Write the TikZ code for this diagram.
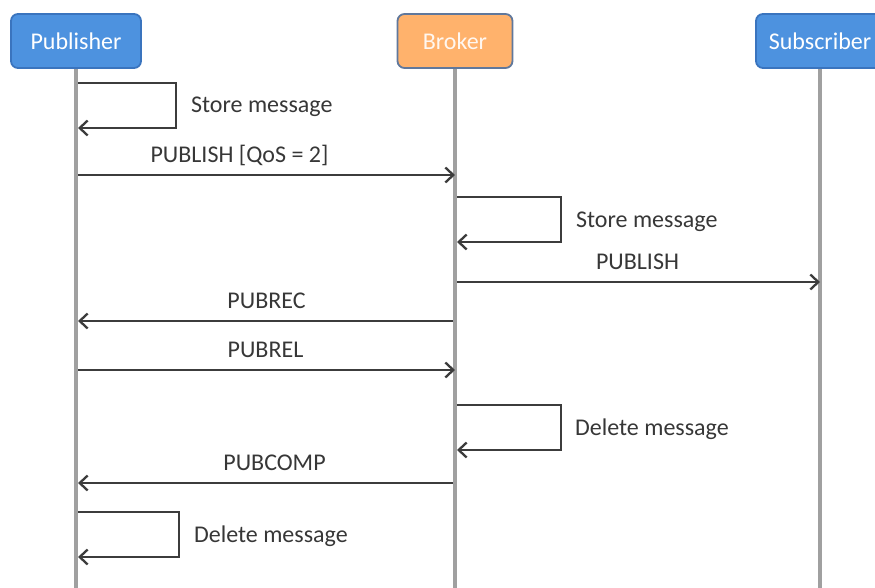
\documentclass[tikz,border=0pt]{standalone}
\usepackage{fontspec}
\setmainfont{Carlito}
\usetikzlibrary{arrows.meta}
\definecolor{pubfill}{RGB}{77,146,223}
\definecolor{publine}{RGB}{58,116,190}
\definecolor{brkfill}{RGB}{255,178,108}
\definecolor{brkline}{RGB}{96,120,156}
\definecolor{lifegray}{RGB}{160,160,160}
\definecolor{msggray}{RGB}{60,60,60}
\definecolor{txtgray}{RGB}{55,55,55}

\begin{document}
\begin{tikzpicture}[x=1pt,y=-1pt,>={Straight Barb[length=8pt,width=15pt]},
  box/.style={draw=#1, rounded corners=7pt, line width=1.8pt, minimum height=54pt, inner sep=0pt, font=\fontsize{24}{28}\selectfont},
  lbl/.style={font=\fontsize{24}{28}\selectfont, text=txtgray, inner sep=0pt, text height=15pt, text depth=0pt},
  life/.style={draw=lifegray, line width=4.5pt},
  msg/.style={->, draw=msggray, line width=2.3pt}]
\useasboundingbox (0,0) rectangle (875,588);
% actors
\node (pub) [box=publine, fill=pubfill, text=white, minimum width=130pt] at (76,41) {Publisher};
\node (brk) [box=brkline, fill=brkfill, text=white!90!brkfill, minimum width=115pt] at (455,41) {Broker};
\node (sub) [box=publine, fill=pubfill, text=white, minimum width=128pt] at (820,41) {Subscriber};
% lifelines
\coordinate (pub-end) at (pub |- 0,588);
\coordinate (brk-end) at (brk |- 0,588);
\coordinate (sub-end) at (sub |- 0,588);
\draw[life] (pub.south) -- (pub-end);
\draw[life] (brk.south) -- (brk-end);
\draw[life] (sub.south) -- (sub-end);
% points on the lifelines
\coordinate (p1) at (pub |- 0,83);  \coordinate (p1e) at (pub |- 0,128);
\coordinate (p2) at (pub |- 0,175); \coordinate (b2) at (brk |- 0,175);
\coordinate (b3) at (brk |- 0,197); \coordinate (b3e) at (brk |- 0,242);
\coordinate (b4) at (brk |- 0,282); \coordinate (s4) at (sub |- 0,282);
\coordinate (b5) at (brk |- 0,321); \coordinate (p5) at (pub |- 0,321);
\coordinate (p6) at (pub |- 0,370); \coordinate (b6) at (brk |- 0,370);
\coordinate (b7) at (brk |- 0,405); \coordinate (b7e) at (brk |- 0,450);
\coordinate (b8) at (brk |- 0,483); \coordinate (p8) at (pub |- 0,483);
\coordinate (p9) at (pub |- 0,512); \coordinate (p9e) at (pub |- 0,557);
% messages
\draw[msg, shorten <=2pt] (p1) -- ++(100,0) -- node[lbl, right=14pt] {Store message} ++(0,45) -- ([xshift=2pt]p1e);
\draw[msg, shorten <=2pt] (p2) -- node[lbl, above=11pt, xshift=-26pt] {PUBLISH [QoS = 2]} (b2);
\draw[msg, shorten <=2pt] (b3) -- ++(106,0) -- node[lbl, right=14pt] {Store message} ++(0,45) -- ([xshift=2pt]b3e);
\draw[msg, shorten <=2pt] (b4) -- node[lbl, above=11pt] {PUBLISH} (s4);
\draw[msg, shorten <=2pt] (b5) -- node[lbl, above=11pt] {PUBREC} ([xshift=2pt]p5);
\draw[msg, shorten <=2pt] (p6) -- node[lbl, above=11pt] {PUBREL} (b6);
\draw[msg, shorten <=2pt] (b7) -- ++(106,0) -- node[lbl, right=13pt] {Delete message} ++(0,45) -- ([xshift=2pt]b7e);
\draw[msg, shorten <=2pt] (b8) -- node[lbl, above=11pt, xshift=8pt] {PUBCOMP} ([xshift=2pt]p8);
\draw[msg, shorten <=2pt] (p9) -- ++(103,0) -- node[lbl, right=14pt] {Delete message} ++(0,45) -- ([xshift=2pt]p9e);
\end{tikzpicture}
\end{document}
